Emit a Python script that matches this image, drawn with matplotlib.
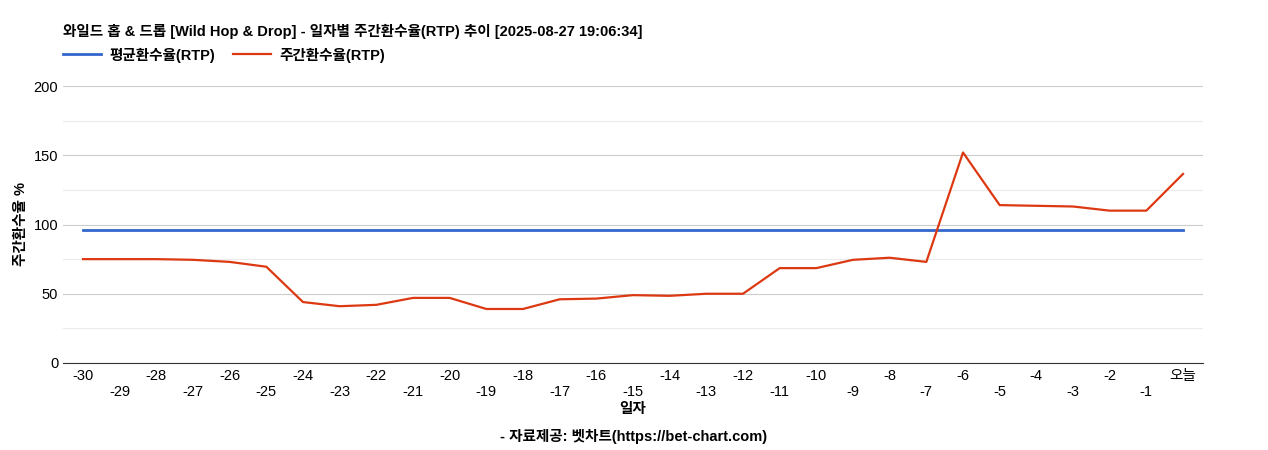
import matplotlib
matplotlib.use("Agg")
import matplotlib.pyplot as plt

plt.rcParams['font.family'] = ['Liberation Sans', 'Noto Sans CJK KR', 'DejaVu Sans']

labels = [str(i) for i in range(-30, 0)] + ['오늘']
weekly = [75, 75, 75, 74.5, 73, 69.5, 44, 41, 42, 47, 47, 39, 39, 46, 46.5, 49, 48.5, 50, 50,
          68.5, 68.5, 74.5, 76, 73, 152, 114, 113.5, 113, 110, 110, 136.5]
average = [96] * len(labels)

fig = plt.figure(figsize=(12.68, 4.5), dpi=100)
ax = fig.add_axes([63/1268, 1-363/450, 1140/1268, 277/450])
x = list(range(len(labels)))
ax.plot(x, average, color='#3366cc', lw=2, label='평균환수율(RTP)')
ax.plot(x, weekly, color='#dc3912', lw=1.6, label='주간환수율(RTP)')
ax.set_ylim(0, 200)
ax.set_xlim(-0.545, len(labels) - 1 + 0.545)
ax.set_yticks([0, 50, 100, 150, 200])
ax.set_yticks([25, 75, 125, 175], minor=True)
ax.tick_params(axis='y', which='both', length=0, labelsize=10.5)
ax.grid(axis='y', which='major', color='#cccccc', lw=0.8)
ax.grid(axis='y', which='minor', color='#ebebeb', lw=0.8)
ax.set_axisbelow(True)
ax.set_xticks(x)
ax.set_xticklabels([l if i % 2 == 0 else '\n' + l for i, l in enumerate(labels)], fontsize=10.5)
ax.tick_params(axis='x', length=0, pad=4)
for s in ['top', 'right', 'left']:
    ax.spines[s].set_visible(False)
ax.spines['bottom'].set_color('#333333')
ax.set_ylabel('주간환수율 %', fontsize=10.5, fontweight='bold')
ax.set_xlabel('일자', fontsize=10.5, fontweight='bold', labelpad=2)
fig.text(63/1268, 1-31/450, '와일드 홉 & 드롭 [Wild Hop & Drop] - 일자별 주간환수율(RTP) 추이 [2025-08-27 19:06:34]',
         fontsize=10.5, fontweight='bold', va='center')
fig.legend(loc='center left', bbox_to_anchor=(50/1268, 1-55/450), ncol=2, frameon=False,
           handlelength=2.6, handletextpad=0.6, columnspacing=1.2, prop={'weight': 'bold', 'size': 10.5})
fig.text(0.5, 1-437/450, '- 자료제공: 벳차트(https://bet-chart.com)', ha='center', va='center',
         fontsize=10.5, fontweight='bold')
fig.savefig('out.png', dpi=100)
